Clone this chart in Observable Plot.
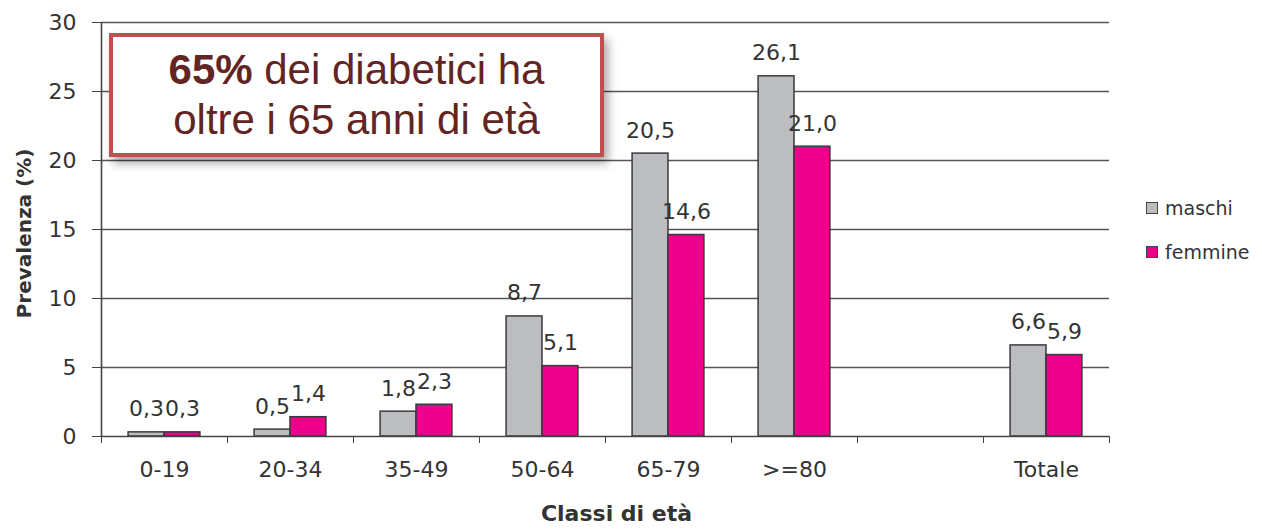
<!DOCTYPE html>
<html>
<head>
<meta charset="utf-8">
<script src="https://cdn.jsdelivr.net/npm/d3@7"></script>
<script src="https://cdn.jsdelivr.net/npm/@observablehq/plot@0.6"></script>
<style>
  html, body { margin: 0; padding: 0; background: #fff; }
  #wrap { position: relative; width: 1262px; height: 531px; font-family: "DejaVu Sans", sans-serif; }
  #note {
    position: absolute; left: 109px; top: 33px; width: 487px; height: 116px;
    border: 4px solid #C0504D; background: #fff;
    box-shadow: 4px 6px 9px rgba(0,0,0,0.35);
    font-family: "Liberation Sans", Arial, sans-serif; font-size: 42px; line-height: 50px;
    color: #632523; text-align: center; display: flex; flex-direction: column; justify-content: center;
  }
  #legend { position: absolute; left: 1146px; top: 186px; font-size: 19px; color: #333; }
  #legend div { display: flex; align-items: center; height: 44px; }
  #legend span.sw { display: inline-block; width: 10px; height: 10px; border: 1.5px solid #444; margin-right: 7px; }
</style>
</head>
<body>
<div id="wrap">
  <div id="chart"></div>
  <div id="note"><div><b>65%</b> dei diabetici ha</div><div>oltre i 65 anni di età</div></div>
  <div id="legend"></div>
</div>
<script>
const categories = ["0-19", "20-34", "35-49", "50-64", "65-79", ">=80", "", "Totale"];
const maschi  = [0.3, 0.5, 1.8, 8.7, 20.5, 26.1, null, 6.6];
const femmine = [0.3, 1.4, 2.3, 5.1, 14.6, 21.0, null, 5.9];
const series = ["maschi", "femmine"];
const colors = ["#BCBDC1", "#EC008C"];
const yTicks = [0, 5, 10, 15, 20, 25, 30];

const rows = [];
categories.forEach((c, i) => {
  if (maschi[i] != null) rows.push({cat: c, i, sex: "maschi", value: maschi[i]});
  if (femmine[i] != null) rows.push({cat: c, i, sex: "femmine", value: femmine[i]});
});
// bar placement within each category slot (fraction of the slot)
const left = d => d.i + (d.sex === "maschi" ? 0.215 : 0.5);
const right = d => d.i + (d.sex === "maschi" ? 0.5 : 0.785);
const fmt = v => v.toFixed(1).replace(".", ",");
const font = "'DejaVu Sans', sans-serif";

const chart = Plot.plot({
  width: 1262,
  height: 531,
  marginLeft: 101,
  marginRight: 153,
  marginTop: 22,
  marginBottom: 95,
  style: {fontFamily: font, fontSize: "22px", color: "#333", background: "#fff"},
  x: {domain: [0, categories.length]},
  y: {domain: [0, 30]},
  color: {domain: series, range: colors},
  marks: [
    Plot.ruleY(yTicks.filter(t => t > 0), {x1: 0, x2: categories.length, stroke: "#555", strokeWidth: 1.4}),
    Plot.rectY(rows, {x1: left, x2: right, y1: 0, y2: "value", fill: "sex", stroke: "#3a3a3a", strokeWidth: 1.5}),
    Plot.text(rows, {x: d => (left(d) + right(d)) / 2, y: "value", text: d => fmt(d.value), dy: -23, fill: "#333", fontSize: 22}),
    Plot.ruleY([0], {stroke: "#444", strokeWidth: 1.6}),
    Plot.ruleX([0], {y1: 0, y2: 30, stroke: "#444", strokeWidth: 1.6}),
    Plot.axisY({ticks: yTicks, tickSize: 9, tickPadding: 16, label: null, stroke: "#444", fill: "#333", fontSize: 22}),
    Plot.axisX({ticks: d3.range(0, categories.length + 1), tickFormat: () => "", tickSize: 7, label: null, stroke: "#444"}),
    Plot.axisX({ticks: categories.map((c, i) => i + 0.5), tickFormat: d => categories[Math.floor(d)], tickSize: 0, tickPadding: 25, label: null, fill: "#333", fontSize: 22}),
    Plot.text(["Classi di età"], {frameAnchor: "bottom", textAnchor: "middle", dx: 11, dy: 84, fontWeight: "bold", fontSize: 22, fill: "#333"}),
    Plot.text(["Prevalenza (%)"], {frameAnchor: "left", textAnchor: "middle", dx: -77, dy: 4, rotate: -90, fontWeight: "bold", fontSize: 20, fill: "#333"})
  ]
});
document.getElementById("chart").appendChild(chart);

const legend = document.getElementById("legend");
series.forEach((s, k) => {
  const row = document.createElement("div");
  const sw = document.createElement("span");
  sw.className = "sw";
  sw.style.background = colors[k];
  row.appendChild(sw);
  row.appendChild(document.createTextNode(s));
  legend.appendChild(row);
});
</script>
</body>
</html>
